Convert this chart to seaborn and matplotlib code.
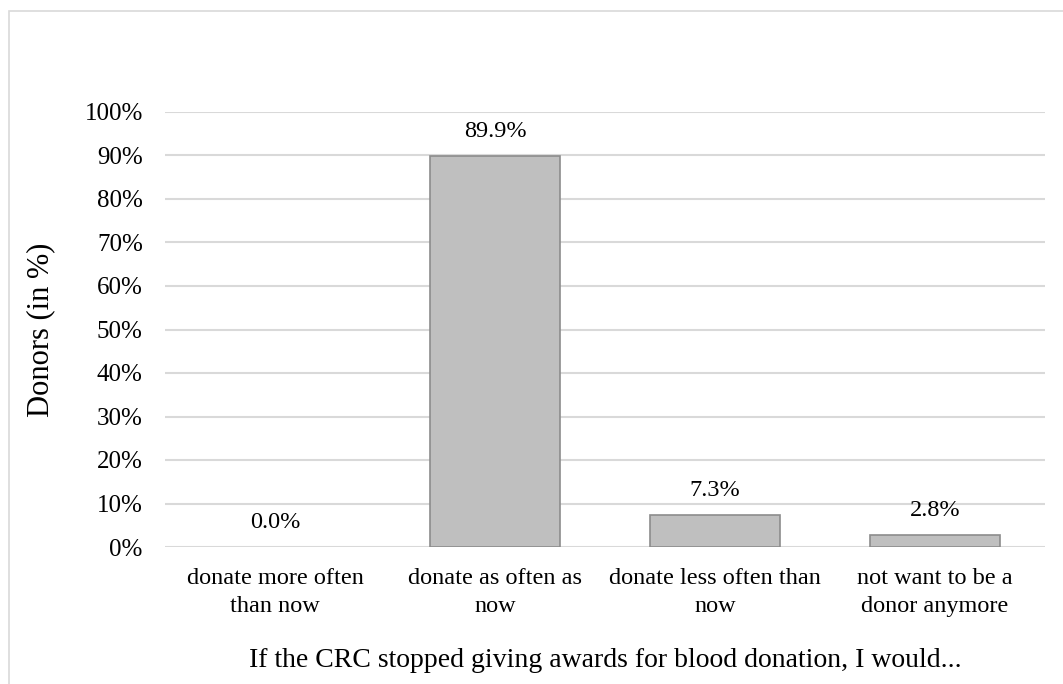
import matplotlib.pyplot as plt
import seaborn as sns
import pandas as pd
from matplotlib.patches import Rectangle

# Data
categories = ["donate more often\nthan now", "donate as often as\nnow",
              "donate less often than\nnow", "not want to be a\ndonor anymore"]
values = [0.0, 89.9, 7.3, 2.8]
y_ticks = [0, 10, 20, 30, 40, 50, 60, 70, 80, 90, 100]

df = pd.DataFrame({"answer": categories, "share": values})

sns.set_theme(style="white")
plt.rcParams['font.family'] = ['Liberation Serif', 'DejaVu Serif']
plt.rcParams['text.color'] = 'black'
plt.rcParams['axes.labelcolor'] = 'black'
plt.rcParams['xtick.color'] = 'black'
plt.rcParams['ytick.color'] = 'black'

fig = plt.figure(figsize=(10.63, 6.84), dpi=100)
ax = fig.add_axes([165 / 1063, 1 - 547 / 684, 880 / 1063, 435 / 684])

sns.barplot(data=df, x="answer", y="share", color="#BFBFBF", edgecolor="#8C8C8C",
            linewidth=1.2, width=0.59, saturation=1, ax=ax, zorder=3)
for p in ax.patches:
    if p.get_height() == 0:
        p.set_linewidth(0)

ax.set_ylim(0, 100)
ax.set_yticks(y_ticks)
ax.set_yticklabels([f"{t}%" for t in y_ticks], fontsize=18)
ax.set_xticks(range(len(categories)))
ax.set_xticklabels(categories, fontsize=17.5, linespacing=1.45)
ax.tick_params(axis="x", length=0, pad=15, labelcolor="black")
ax.tick_params(axis="y", length=0, pad=16, labelcolor="black")
ax.grid(axis="y", color="#D9D9D9", linewidth=1.5, zorder=0)
ax.set_axisbelow(True)
for s in ax.spines.values():
    s.set_visible(False)

ax.set_ylabel("Donors (in %)", fontsize=22, labelpad=21)
ax.set_xlabel("If the CRC stopped giving awards for blood donation, I would...",
              fontsize=20, labelpad=22)

for i, v in enumerate(values):
    ax.annotate(f"{v:.1f}%", (i, v), xytext=(0, 10), textcoords="offset points",
                ha="center", va="bottom", fontsize=17.5)

# outer frame
fig.patches.append(Rectangle((9 / 1063, -0.05), 1.1, 1 - 11 / 684 + 0.05,
                             transform=fig.transFigure, fill=False,
                             edgecolor="#D9D9D9", linewidth=1.2))

fig.savefig("out.png", dpi=100, facecolor="white")
